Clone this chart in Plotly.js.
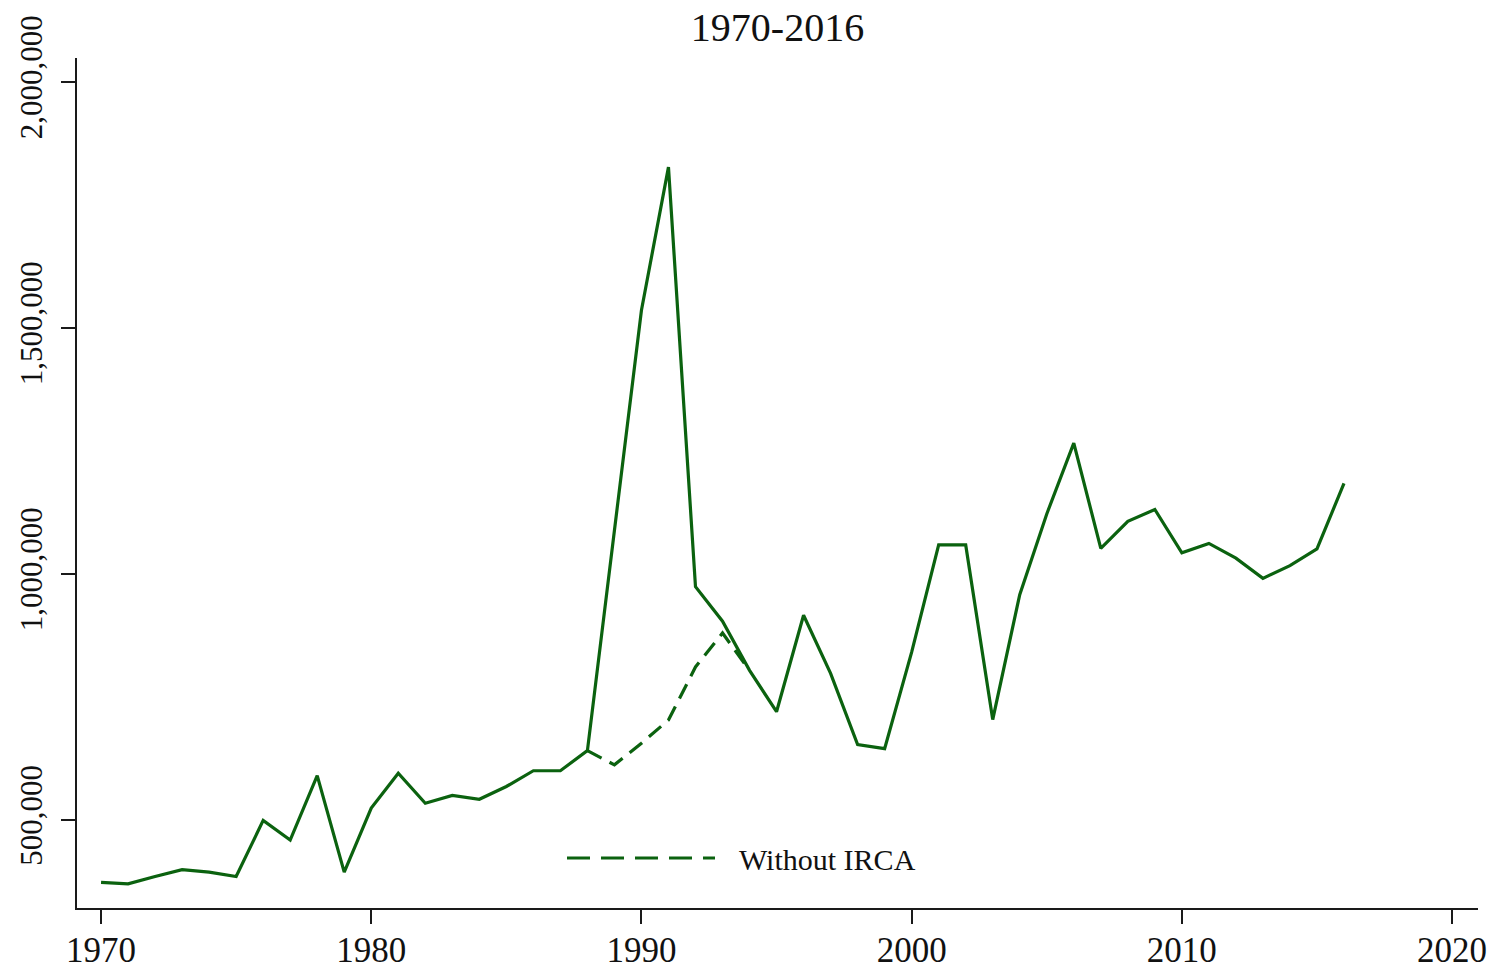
<!DOCTYPE html>
<html>
<head>
<meta charset="utf-8">
<script src="https://cdn.plot.ly/plotly-3.0.1.min.js"></script>
<style>
  html, body { margin: 0; padding: 0; background: #ffffff; }
  #chart { width: 1501px; height: 971px; }
</style>
</head>
<body>
<div id="chart"></div>
<script>
// Years on the x axis
const years = [1970, 1971, 1972, 1973, 1974, 1975, 1976, 1977, 1978, 1979,
               1980, 1981, 1982, 1983, 1984, 1985, 1986, 1987, 1988, 1989,
               1990, 1991, 1992, 1993, 1994, 1995, 1996, 1997, 1998, 1999,
               2000, 2001, 2002, 2003, 2004, 2005, 2006, 2007, 2008, 2009,
               2010, 2011, 2012, 2013, 2014, 2015, 2016];

// Total (solid line)
const totalValues = [373000, 370000, 385000, 399000, 394000, 385000, 499000, 459000, 590000, 394000,
                     524000, 595000, 534000, 550000, 542000, 568000, 600000, 600000, 641000, 1091000,
                     1536000, 1827000, 974000, 904000, 804000, 720000, 916000, 798000, 653000, 645000,
                     841000, 1059000, 1059000, 704000, 958000, 1122000, 1266000, 1052000, 1107000, 1131000,
                     1043000, 1062000, 1032000, 991000, 1017000, 1051000, 1184000];

// Without IRCA (dashed line)
const ircaYears = [1988, 1989, 1990, 1991, 1992, 1993, 1994];
const withoutIrcaValues = [641000, 612000, 656000, 703000, 811000, 880000, 804000];

// Axis ticks
const xTicks = [1970, 1980, 1990, 2000, 2010, 2020];
const yTicks = [500000, 1000000, 1500000, 2000000];
const yTickLabels = ["500,000", "1,000,000", "1,500,000", "2,000,000"];

const titleText = "1970-2016";
const legendLabel = "Without IRCA";

const green = "#0b620f";
const axisColor = "#1a1a1a";
const serif = "Liberation Serif, Times New Roman, serif";

const traces = [
  {
    x: ircaYears, y: withoutIrcaValues, type: "scatter", mode: "lines",
    name: legendLabel,
    line: { color: green, width: 3.2, dash: "16px,9px" },
    showlegend: false, hoverinfo: "x+y"
  },
  {
    x: years, y: totalValues, type: "scatter", mode: "lines",
    name: "Total",
    line: { color: green, width: 3.2 },
    showlegend: false, hoverinfo: "x+y"
  }
];

const layout = {
  width: 1501, height: 971,
  paper_bgcolor: "#ffffff", plot_bgcolor: "#ffffff",
  margin: { l: 77, r: 23, t: 58, b: 63, pad: 0 },
  title: {
    text: titleText,
    font: { family: serif, size: 40, color: "#111111" },
    x: 0.5, xref: "paper", xanchor: "center",
    y: 1 - 27 / 971, yref: "container", yanchor: "middle"
  },
  xaxis: {
    range: [1969.11, 2020.96],
    tickmode: "array", tickvals: xTicks, ticktext: xTicks.map(String),
    showgrid: false, zeroline: false,
    showline: true, linecolor: axisColor, linewidth: 2,
    ticks: "outside", ticklen: 14, tickwidth: 2, tickcolor: axisColor,
    ticklabelstandoff: -4,
    tickfont: { family: serif, size: 35, color: "#111111" }
  },
  yaxis: {
    range: [321000, 2048800],
    tickmode: "array", tickvals: yTicks, ticktext: yTickLabels,
    tickangle: -90,
    showgrid: false, zeroline: false,
    showline: true, linecolor: axisColor, linewidth: 2,
    ticks: "outside", ticklen: 14, tickwidth: 2, tickcolor: axisColor,
    ticklabelstandoff: 7,
    tickfont: { family: serif, size: 31, color: "#111111" }
  },
  shapes: [
    {
      type: "line", xref: "paper", yref: "paper",
      x0: (567 - 77) / 1401, x1: (715 - 77) / 1401,
      y0: (908 - 858) / 850, y1: (908 - 858) / 850,
      line: { color: green, width: 3.2, dash: "23px,11px" }
    }
  ],
  annotations: [
    {
      text: legendLabel, xref: "paper", yref: "paper",
      x: (737 - 77) / 1401, y: (908 - 859) / 850,
      xanchor: "left", yanchor: "middle", showarrow: false,
      font: { family: serif, size: 30, color: "#111111" }
    }
  ]
};

Plotly.newPlot("chart", traces, layout, { displayModeBar: false, staticPlot: true });
</script>
</body>
</html>
